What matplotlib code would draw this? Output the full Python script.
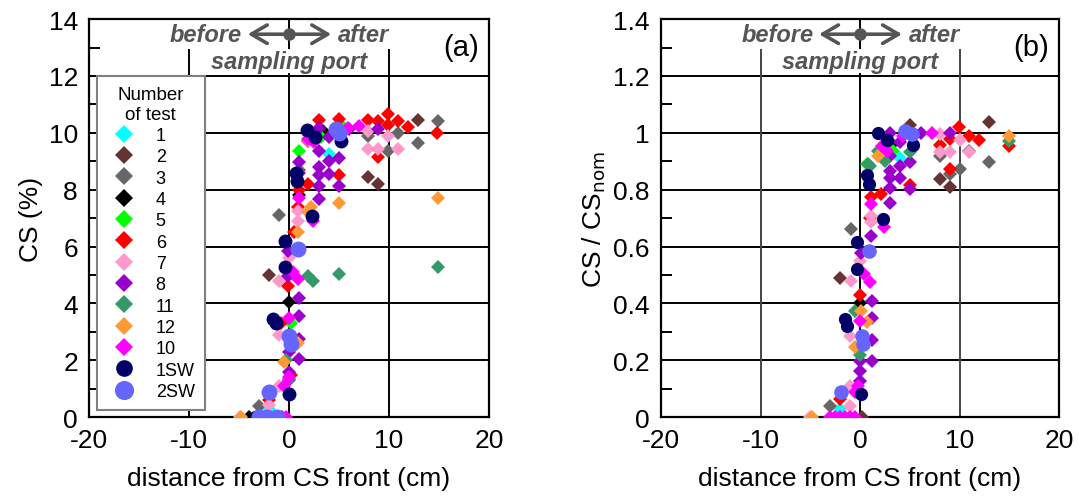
import matplotlib.pyplot as plt
import numpy as np
from matplotlib.patches import Rectangle

plt.rcParams["font.family"] = ["Liberation Sans", "DejaVu Sans"]
plt.rcParams["font.size"] = 19
plt.rcParams["axes.linewidth"] = 1.6
plt.rcParams["axes.unicode_minus"] = False  # plain hyphen like the original
plt.rcParams["ytick.direction"] = "in"
plt.rcParams["xtick.direction"] = "in"

# ---- data: (a) CS (%) vs distance, (b) CS/CS_nom vs distance ----
labels = ["1", "2", "3", "4", "5", "6", "7", "8", "11", "12", "10", "1SW", "2SW"]
colors = ["#00FFFF", "#663333", "#666666", "#000000", "#00FF00", "#FF0000", "#FF99CC",
          "#9900CC", "#339966", "#FF9933", "#FF00FF", "#000066", "#6666FF"]
markers = ["D"] * 11 + ["o", "o"]

a_x = {
    "1": [4.0, -2.0, -1.5],
    "2": [12.9, 7.9, 8.9, -2.0, -0.7],
    "3": [14.9, 10.9, 12.9, 9.9, 7.9, -1.0, -3.0, 1.0],
    "4": [1.0, 0.0, -4.0, -2.0, 3.4],
    "5": [1.0, 3.2, 5.4, 0.2],
    "6": [3.0, 5.0, 7.9, 9.9, 10.9, 11.9, 14.8, 8.9, 9.9, 8.9, 5.0, 1.9, 1.0, 0.9, 1.9, -0.1, -0.8, -2.0, 0.5, 0.2],
    "7": [7.9, 8.9, 10.9, 9.9, 7.9, 0.9, 0.9, 0.0, -1.0, -1.0, -1.0, -2.0, -4.9, 2.0],
    "8": [3.0, 4.0, 6.0, 8.9, 3.0, 4.0, 5.0, 1.0, 3.0, 3.0, 4.0, 5.0, 3.0, 3.0, 1.0,
          1.0, 1.0, 1.0, 1.0, 0.0, 0.0, -0.1, -0.1, 0.0],
    "11": [1.9, 5.0, 14.9, -0.3, 0.0, 2.4],
    "12": [14.9, 5.0, 2.2, 1.9, 0.9, -0.5, -4.8, 0.9],
    "10": [7.0, 5.9, 1.9, 2.5, 1.0, 2.4, 0.4, 0.9, 0.0, 0.0, -0.5, -1.2, -0.3],
    "1SW": [1.8, 2.6, 5.2, 0.7, 0.8, 2.3, -0.4, -0.4, -1.6, -1.3, 0.0, -3.3],
    "2SW": [4.7, 5.0, 0.9, 0.0, 0.2, -2.0, -3.0, -2.2, -1.2],
}
a_y = {
    "1": [9.25, 0.28, 0.0],
    "2": [10.45, 8.45, 8.2, 5.0, 0.0],
    "3": [10.4, 10.0, 9.65, 9.35, 9.9, 7.1, 0.4, 8.7],
    "4": [7.8, 4.05, 0.0, 0.0, 10.05],
    "5": [9.35, 9.85, 10.2, 3.3],
    "6": [10.45, 10.5, 10.45, 10.66, 10.4, 10.2, 10.0, 10.4, 10.27, 9.15, 8.5, 8.2, 8.0, 7.4, 9.7, 4.6, 3.3, 0.6, 6.5, 1.5],
    "7": [9.43, 9.43, 9.43, 9.9, 10.05, 7.25, 6.9, 5.6, 4.8, 2.9, 1.1, 0.42, 0.0, 9.7],
    "8": [10.17, 9.85, 10.13, 10.13, 9.35, 9.0, 9.13, 8.97, 8.8, 8.5, 8.55, 8.13, 8.13, 7.67, 8.6,
          4.2, 3.55, 2.75, 2.04, 1.6, 1.3, 5.85, 4.96, 2.3],
    "11": [4.97, 5.03, 5.28, 2.0, 1.33, 4.8],
    "12": [7.7, 7.53, 7.4, 7.2, 6.5, 1.93, 0.0, 2.6],
    "10": [10.24, 10.16, 9.78, 9.67, 7.7, 6.9, 5.1, 4.85, 3.5, 1.4, 1.1, 0.0, 0.0],
    "1SW": [10.1, 9.85, 9.7, 8.6, 8.3, 7.07, 6.2, 5.27, 3.45, 3.3, 0.8, 0.0],
    "2SW": [10.13, 10.0, 5.9, 2.85, 2.57, 0.87, 0.0, 0.0, 0.0],
}

b_x = {
    "1": [4.0, -2.0],
    "2": [13.0, 5.0, 8.0, 9.0, -2.0, 0.2],
    "3": [13.0, 10.0, 11.0, 8.0, -0.9, -3.0, 9.0],
    "4": [3.2, 0.0],
    "5": [3.3, 0.7],
    "6": [9.95, 11.0, 12.0, 9.0, 8.0, 15.0, 9.0, 5.0, 2.1, 1.1, 1.0, 0.0, -2.0],
    "7": [8.0, 9.0, 11.0, 10.0, 8.0, 1.1, 1.1, 0.0, -0.9, -1.0, -1.0, -1.0, -5.0],
    "8": [3.0, 6.1, 9.0, 4.0, 3.0, 5.0, 4.0, 3.0, 3.0, 4.0, 3.0, 5.0, 3.0, 1.1, 0.1,
          1.2, 1.2, 1.2, 1.2, 0.0, 0.0, 0.0],
    "11": [1.8, 2.5, 5.0, 0.8, 15.0, 1.0, -0.5, 0.0],
    "12": [15.0, 1.8, 0.1, 0.7, -0.5, -4.8],
    "10": [7.2, 5.2, 4.3, 2.2, 2.7, 1.1, 2.4, 0.4, 1.0, 0.0, -0.2, -0.5, -3.0, -2.5, -2.0, -1.5, -1.0, -0.5],
    "1SW": [1.8, 2.7, 5.3, 0.7, 0.9, 2.3, -0.3, -0.3, -1.5, -1.3, 0.1],
    "2SW": [4.5, 5.2, 0.9, 0.2, 0.3, -1.9],
}
b_y = {
    "1": [0.91, 0.028],
    "2": [1.037, 1.027, 0.837, 0.809, 0.49, 0.0],
    "3": [0.897, 0.872, 0.935, 0.92, 0.66, 0.04, 0.855],
    "4": [0.96, 0.40],
    "5": [0.935, 0.89],
    "6": [1.02, 0.99, 0.975, 0.98, 0.957, 0.953, 0.873, 0.816, 0.784, 0.773, 0.70, 0.43, 0.063],
    "7": [0.932, 0.932, 0.932, 0.975, 0.995, 0.707, 0.685, 0.55, 0.48, 0.285, 0.11, 0.04, 0.0],
    "8": [1.0, 0.998, 0.998, 0.967, 0.92, 0.896, 0.883, 0.866, 0.84, 0.84, 0.805, 0.802, 0.753, 0.637, 0.577,
          0.41, 0.35, 0.27, 0.197, 0.162, 0.127, 0.197],
    "11": [0.936, 0.9, 0.932, 0.89, 0.97, 0.883, 0.373, 0.22],
    "12": [0.99, 0.92, 0.373, 0.334, 0.246, 0.0],
    "10": [0.998, 0.99, 0.99, 0.953, 0.935, 0.75, 0.67, 0.503, 0.475, 0.338, 0.11, 0.09, 0.0, 0.0, 0.0, 0.0, 0.0, 0.0],
    "1SW": [1.0, 0.975, 0.957, 0.85, 0.82, 0.696, 0.615, 0.52, 0.345, 0.32, 0.081],
    "2SW": [1.006, 0.995, 0.584, 0.285, 0.257, 0.088],
}

a_yticks = [0, 2, 4, 6, 8, 10, 12, 14]
b_yticks = [0, 0.2, 0.4, 0.6, 0.8, 1.0, 1.2, 1.4]
b_yticklabels = ["0", "0.2", "0.4", "0.6", "0.8", "1", "1.2", "1.4"]
xticks = [-20, -10, 0, 10, 20]

fig = plt.figure(figsize=(10.79, 5.02), dpi=100)
ax_a = fig.add_axes([0.0825, 0.167, 0.3707, 0.793])
ax_b = fig.add_axes([0.6126, 0.167, 0.3689, 0.793])

grey = "#555555"


def setup(ax, ymax, yticks, vcolor, tag):
    ax.set_xlim(-20, 20)
    ax.set_ylim(0, ymax)
    ax.set_xticks(xticks)
    ax.set_yticks(yticks)
    ax.set_yticks(np.arange(0, ymax, yticks[1] / 2), minor=True)
    ax.tick_params(axis="both", which="major", length=0, pad=8)
    ax.tick_params(axis="y", which="minor", length=8, width=1.4)
    top = ymax * 0.925
    # grid lines by hand (the top band stays clear)
    for yv in yticks[1:-1]:
        ax.axhline(yv, color="black", lw=1.4, zorder=1)
    ax.vlines([-10, 10], 0, top, colors=vcolor, lw=1.4, zorder=1)
    ax.axvline(0, color="black", lw=1.4, zorder=1)
    # before / after label
    ya = ymax * 0.962
    ax.annotate("", xy=(-4.4, ya), xytext=(0, ya),
                arrowprops=dict(arrowstyle="->,head_length=0.6,head_width=0.35", color=grey, lw=2.6), zorder=4)
    ax.annotate("", xy=(4.5, ya), xytext=(0, ya),
                arrowprops=dict(arrowstyle="->,head_length=0.6,head_width=0.35", color=grey, lw=2.6), zorder=4)
    ax.plot([0], [ya], "o", color=grey, ms=8, zorder=5)
    ax.text(-4.7, ya, "before", ha="right", va="center", color=grey, fontsize=17,
            fontweight="bold", fontstyle="italic", zorder=5)
    ax.text(4.9, ya, "after", ha="left", va="center", color=grey, fontsize=17,
            fontweight="bold", fontstyle="italic", zorder=5)
    ax.add_patch(Rectangle((-9.75, ymax * 0.865), 19.5, ymax * 0.06, facecolor="white",
                           edgecolor="none", zorder=2))
    ax.text(0, ymax * 0.893, "sampling port", ha="center", va="center", color=grey, fontsize=17,
            fontweight="bold", fontstyle="italic", zorder=5)
    ax.text(0.93, 0.93, tag, transform=ax.transAxes, ha="center", va="center", fontsize=21)
    ax.set_xlabel("distance from CS front (cm)", labelpad=10)


setup(ax_a, 14, a_yticks, "black", "(a)")
setup(ax_b, 1.4, b_yticks, "#444444", "(b)")
ax_b.set_yticklabels(b_yticklabels)
ax_a.set_ylabel("CS (%)")
ax_b.set_ylabel(r"CS / CS$_{\mathrm{nom}}$")

for lab, c, m in zip(labels, colors, markers):
    ms_a = 7.5 if m == "D" else (10 if lab == "1SW" else 11.5)
    ms_b = 7.0 if m == "D" else (9.5 if lab == "1SW" else 10.5)
    ax_a.plot(a_x[lab], a_y[lab], linestyle="none", marker=m, ms=ms_a, color=c,
              markeredgewidth=0, label=lab, zorder=3)
    ax_b.plot(b_x[lab], b_y[lab], linestyle="none", marker=m, ms=ms_b, color=c,
              markeredgewidth=0, zorder=3)

leg = ax_a.legend(loc="upper left", bbox_to_anchor=(0.02, 0.857), title="Number\nof test",
                  fontsize=13, title_fontsize=13.5, markerscale=1.2, labelspacing=0.24,
                  borderpad=0.55, handlelength=1.9, handletextpad=0.8, borderaxespad=0,
                  fancybox=False, framealpha=1, edgecolor="#808080", alignment="center")
leg.get_frame().set_linewidth(1.5)
leg.get_title().set_multialignment("center")
leg.set_zorder(6)

fig.savefig("out.png", dpi=100)
